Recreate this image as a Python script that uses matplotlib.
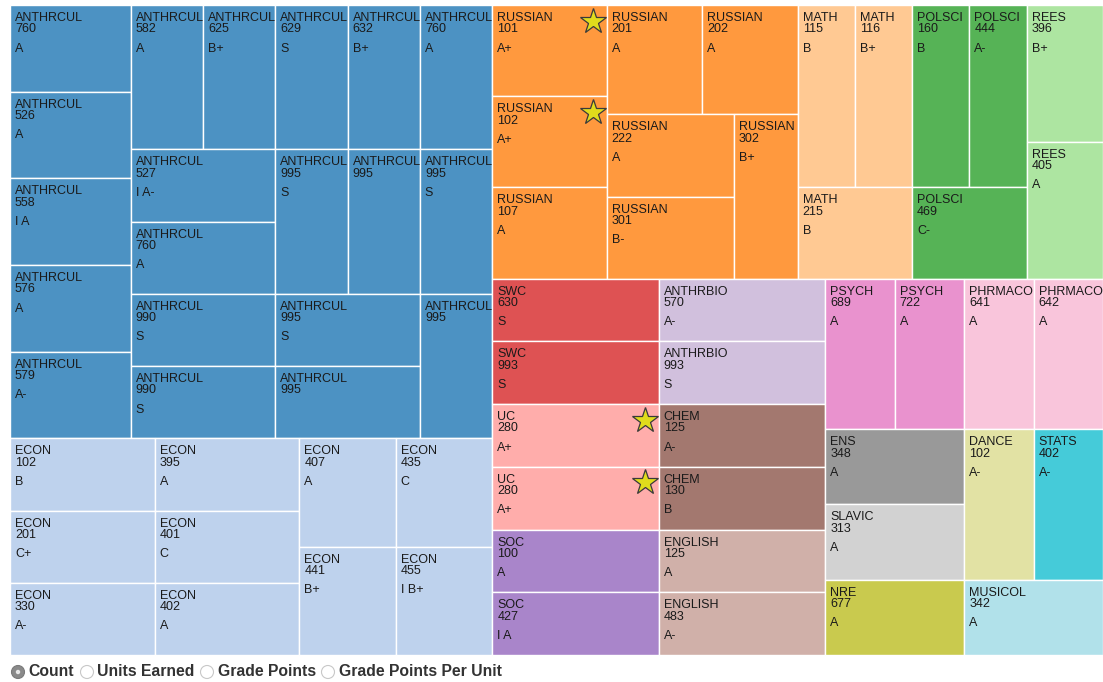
import matplotlib
matplotlib.use("Agg")
import matplotlib.pyplot as plt
from matplotlib.patches import Rectangle, Circle
from matplotlib.colors import to_rgb

# ---------------- data ----------------
departments = ["ANTHRCUL", "ECON", "RUSSIAN", "MATH", "POLSCI", "REES", "SWC", "UC", "SOC",
               "ANTHRBIO", "CHEM", "ENGLISH", "PSYCH", "PHRMACO", "ENS", "SLAVIC", "NRE",
               "DANCE", "STATS", "MUSICOL"]

dept_colors = ["#1f77b4", "#aec7e8", "#ff7f0e", "#ffbb78", "#2ca02c", "#98df8a", "#d62728",
               "#ff9896", "#9467bd", "#c5b0d5", "#8c564b", "#c49c94", "#e377c2", "#f7b6d2",
               "#7f7f7f", "#c7c7c7", "#bcbd22", "#dbdb8d", "#17becf", "#9edae5"]

course_dept = (["ANTHRCUL"] * 20 + ["ECON"] * 10 + ["RUSSIAN"] * 8 + ["MATH"] * 3 + ["POLSCI"] * 3
               + ["REES"] * 2 + ["SWC"] * 2 + ["UC"] * 2 + ["SOC"] * 2 + ["ANTHRBIO"] * 2
               + ["CHEM"] * 2 + ["ENGLISH"] * 2 + ["PSYCH"] * 2 + ["PHRMACO"] * 2
               + ["ENS", "SLAVIC", "NRE", "DANCE", "STATS", "MUSICOL"])

course_number = ["760", "526", "558", "576", "579", "582", "625", "629", "632", "760",
                 "527", "760", "990", "990", "995", "995", "995", "995", "995", "995",
                 "102", "201", "330", "395", "401", "402", "407", "435", "441", "455",
                 "101", "102", "107", "201", "202", "222", "301", "302",
                 "115", "116", "215",
                 "160", "444", "469",
                 "396", "405",
                 "630", "993",
                 "280", "280",
                 "100", "427",
                 "570", "993",
                 "125", "130",
                 "125", "483",
                 "689", "722",
                 "641", "642",
                 "348", "313", "677", "102", "402", "342"]

course_grade = ["A", "A", "I A", "A", "A-", "A", "B+", "S", "B+", "A",
                "I A-", "A", "S", "S", "S", "", "S", "S", "", "",
                "B", "C+", "A-", "A", "C", "A", "A", "C", "B+", "I B+",
                "A+", "A+", "A", "A", "A", "A", "B-", "B+",
                "B", "B+", "B",
                "B", "A-", "C-",
                "B+", "A",
                "S", "S",
                "A+", "A+",
                "A", "I A",
                "A-", "S",
                "A-", "B",
                "A", "A-",
                "A", "A",
                "A", "A",
                "A", "A", "A", "A-", "A-", "A"]

course_count = [1, 1, 1, 1, 1, 1, 1, 1, 1, 1, 1, 1, 1, 1, 1, 1, 1, 1, 1, 1,
                1, 1, 1, 1, 1, 1, 1, 1, 1, 1,
                1, 1, 1, 1, 1, 1, 1, 1,
                1, 1, 1, 1, 1, 1, 1, 1, 1, 1, 1, 1, 1, 1, 1, 1, 1, 1, 1, 1, 1, 1,
                1, 1, 1, 1, 1, 1, 1, 1]

course_star = ["A+"]  # grades marked with a star

radio_labels = ["Count", "Units Earned", "Grade Points", "Grade Points Per Unit"]
radio_selected = 0

# ---------------- layout (d3 squarify) ----------------
PHI = (1 + 5 ** 0.5) / 2


def squarify(values, x0, y0, x1, y1, ratio=PHI):
    rects = [None] * len(values)
    n = len(values)
    i0 = i1 = 0
    value = float(sum(values))
    while i0 < n:
        dx, dy = x1 - x0, y1 - y0
        sum_v = values[i1]
        i1 += 1
        min_v = max_v = sum_v
        alpha = max(dy / dx, dx / dy) / (value * ratio)
        beta = sum_v * sum_v * alpha
        min_ratio = max(max_v / beta, beta / min_v)
        while i1 < n:
            nv = values[i1]
            sum_v += nv
            min_v = min(min_v, nv)
            max_v = max(max_v, nv)
            beta = sum_v * sum_v * alpha
            new_ratio = max(max_v / beta, beta / min_v)
            if new_ratio > min_ratio:
                sum_v -= nv
                break
            min_ratio = new_ratio
            i1 += 1
        if dx < dy:
            ny = y0 + dy * sum_v / value
            k = (x1 - x0) / sum_v
            xx = x0
            for i in range(i0, i1):
                rects[i] = (xx, y0, xx + values[i] * k, ny)
                xx += values[i] * k
            y0 = ny
        else:
            nx = x0 + dx * sum_v / value
            k = (y1 - y0) / sum_v
            yy = y0
            for i in range(i0, i1):
                rects[i] = (x0, yy, nx, yy + values[i] * k)
                yy += values[i] * k
            x0 = nx
        value -= sum_v
        i0 = i1
    return rects


W, H = 1103, 682
fig = plt.figure(figsize=(W / 100, H / 100), dpi=100)
ax = fig.add_axes([0, 0, 1, 1])
ax.set_xlim(0, W)
ax.set_ylim(H, 0)
ax.axis("off")

FONT = "Liberation Sans"
ALPHA = 0.8


def lighten(c, a=ALPHA):
    r, g, b = to_rgb(c)
    return (a * r + 1 - a, a * g + 1 - a, a * b + 1 - a)


dept_values = [sum(c for d2, c in zip(course_dept, course_count) if d2 == d) for d in departments]
dept_rects = squarify(dept_values, 10, 5, 1103, 655)

for d, col, (dx0, dy0, dx1, dy1) in zip(departments, dept_colors, dept_rects):
    idx = [i for i, d2 in enumerate(course_dept) if d2 == d]
    vals = [course_count[i] for i in idx]
    leaf_rects = squarify(vals, dx0, dy0, dx1, dy1)
    for i, (x0, y0, x1, y1) in zip(idx, leaf_rects):
        ax.add_patch(Rectangle((x0, y0), x1 - x0, y1 - y0, facecolor=lighten(col),
                               edgecolor="white", linewidth=1.0))
        tc = "#1a1a1a"
        ax.text(x0 + 5, y0 + 16, d, fontsize=9, family=FONT, color=tc, va="baseline", ha="left")
        ax.text(x0 + 5, y0 + 27.3, course_number[i], fontsize=9, family=FONT, color=tc,
                va="baseline", ha="left")
        if course_grade[i]:
            ax.text(x0 + 5, y0 + 46.5, course_grade[i], fontsize=9, family=FONT, color=tc,
                    va="baseline", ha="left")
        if course_grade[i] in course_star:
            ax.plot([x1 - 14], [y0 + 15.5], marker="*", markersize=19,
                    markerfacecolor="#e0dc1c", markeredgecolor="#3a3a3a",
                    markeredgewidth=0.9, zorder=5)

# ---------------- radio buttons ----------------
radio_x = [18, 87, 207, 328]
text_x = [28, 97, 218, 339]
for k, (lab, cx, tx) in enumerate(zip(radio_labels, radio_x, text_x)):
    if k == radio_selected:
        ax.add_patch(Circle((cx, 672), 6.5, facecolor="#8a8a8a", edgecolor="#7a7a7a", lw=0.8))
        ax.add_patch(Circle((cx, 672), 2.2, facecolor="#e8e8e8", edgecolor="none"))
    else:
        ax.add_patch(Circle((cx, 672), 6.5, facecolor="white", edgecolor="#c8c8c8", lw=0.8))
    ax.text(tx, 672, lab, fontsize=11.3, family=FONT, weight="bold", color="#333333",
            va="center", ha="left")

fig.savefig("out.png", dpi=100)
